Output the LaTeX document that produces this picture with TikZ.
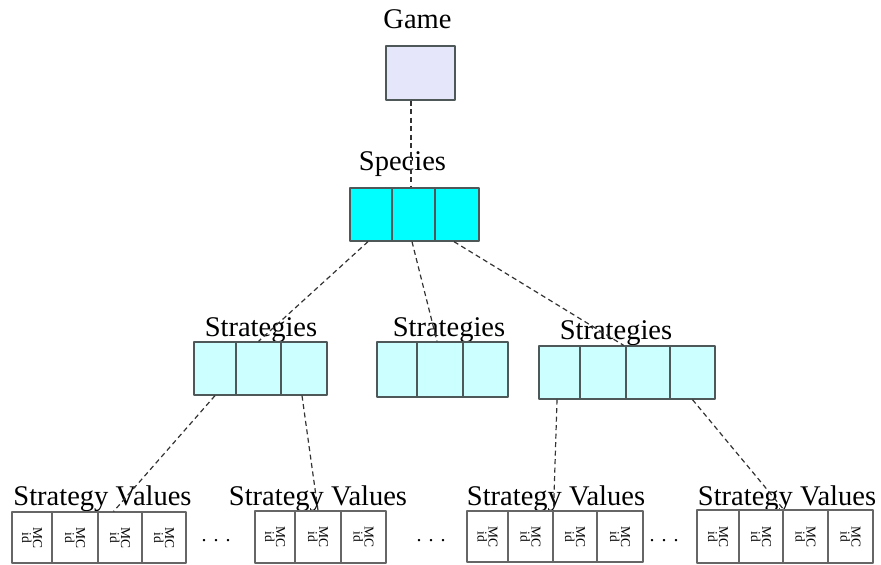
\documentclass[tikz,border=0pt]{standalone}
\usepackage{fontspec}
\setmainfont{Liberation Serif}
\definecolor{lav}{HTML}{E6E6FA}
\definecolor{spfill}{HTML}{00FFFF}
\definecolor{stfill}{HTML}{CCFFFF}
\definecolor{boxline}{HTML}{4E5858}
\definecolor{svline}{HTML}{666666}
\definecolor{conncol}{HTML}{333333}
\begin{document}
\begin{tikzpicture}[x=1pt,y=-1pt,
  lbl/.style={font=\fontsize{28.5}{30}\selectfont, anchor=base, inner sep=0pt},
  dotlbl/.style={font=\fontsize{20}{22}\selectfont, anchor=base, inner sep=0pt},
  cellbox/.style={draw=boxline, line width=1.3pt, inner sep=0pt, line join=round},
  svbox/.style={draw=svline, line width=1.2pt, inner sep=0pt, fill=white, line join=round},
  celltxt/.style={rotate=-90, align=center, inner sep=0pt, font=\fontsize{13.5}{11}\selectfont},
  conn/.style={draw=conncol, line width=1.2pt, dash pattern=on 5pt off 3.5pt},
]
\useasboundingbox (0,0) rectangle (881,565);

% Game
\node[cellbox, fill=lav, minimum width=69pt, minimum height=54pt] (game) at (420.5,73) {};
\node[lbl] (gamel) at (417.5,28) {Game};

% Species
\node[lbl] (spl) at (402.5,170) {Species};
\foreach \a/\b [count=\i] in {350/392,392/435,435/479}
  \node[cellbox, fill=spfill, minimum width={(\b-\a)*1pt}, minimum height=53pt] (sp\i) at ({(\a+\b)/2},214.5) {};

% Strategies
\node[lbl] (sal) at (261,336) {Strategies};
\foreach \a/\b [count=\i] in {194/236,236/281,281/327}
  \node[cellbox, fill=stfill, minimum width={(\b-\a)*1pt}, minimum height=53pt] (sa\i) at ({(\a+\b)/2},368.5) {};
\node[lbl] (sbl) at (449,336) {Strategies};
\foreach \a/\b [count=\i] in {377/417,417/463,463/508}
  \node[cellbox, fill=stfill, minimum width={(\b-\a)*1pt}, minimum height=55pt] (sb\i) at ({(\a+\b)/2},369.5) {};
\node[lbl] (scl) at (616,339) {Strategies};
\foreach \a/\b [count=\i] in {539/580,580/626,626/670,670/715}
  \node[cellbox, fill=stfill, minimum width={(\b-\a)*1pt}, minimum height=53pt] (sc\i) at ({(\a+\b)/2},372.5) {};

% Strategy values
\node[lbl] (val) at (102.5,505) {Strategy Values};
\foreach \a/\b [count=\i] in {12/52,52/98,98/142,142/186}{
  \node[svbox, minimum width={(\b-\a)*1pt}, minimum height=51pt] (va\i) at ({(\a+\b)/2},537.5) {};
  \node[celltxt] (tva\i) at (va\i) {MC\\id};
}
\node[lbl] (vbl) at (318,505) {Strategy Values};
\foreach \a/\b [count=\i] in {255/295,295/341,341/386}{
  \node[svbox, minimum width={(\b-\a)*1pt}, minimum height=52pt] (vb\i) at ({(\a+\b)/2},537) {};
  \node[celltxt] (tvb\i) at (vb\i) {MC\\id};
}
\node[lbl] (vcl) at (556,505) {Strategy Values};
\foreach \a/\b [count=\i] in {467/508,508/553,553/597,597/643}{
  \node[svbox, minimum width={(\b-\a)*1pt}, minimum height=51pt] (vc\i) at ({(\a+\b)/2},536.5) {};
  \node[celltxt] (tvc\i) at (vc\i) {MC\\id};
}
\node[lbl] (vdl) at (787,505) {Strategy Values};
\foreach \a/\b [count=\i] in {697/739,739/783,783/828,828/873}{
  \node[svbox, minimum width={(\b-\a)*1pt}, minimum height=53pt] (vd\i) at ({(\a+\b)/2},536.5) {};
  \node[celltxt] (tvd\i) at (vd\i) {MC\\id};
}

% ellipses
\node[dotlbl] (dots1) at (216,541) {.\hspace{7pt}.\hspace{7pt}.};
\node[dotlbl] (dots2) at (431,541) {.\hspace{7pt}.\hspace{7pt}.};
\node[dotlbl] (dots3) at (664,541) {.\hspace{7pt}.\hspace{7pt}.};

% connectors
\draw[conn] ([xshift=-9.5pt]game.south) -- ([xshift=-2.5pt]sp2.north);
\draw[conn] ([xshift=-3pt]sp1.south) -- (sa2.north);
\draw[conn] ([xshift=-1.5pt]sp2.south) -- ([xshift=-3pt]sb2.north);
\draw[conn] ([xshift=-3pt]sp3.south) -- ([xshift=-3pt]sc2.north east);
\draw[conn] (sa1.south) -- ([xshift=15pt]va2.north east);
\draw[conn] ([xshift=-2pt]sa3.south) -- (vb2.north);
\draw[conn] ([xshift=-2.5pt]sc1.south) -- (vc2.north east);
\draw[conn] (sc4.south) -- (vd2.north east);
\end{tikzpicture}
\end{document}
